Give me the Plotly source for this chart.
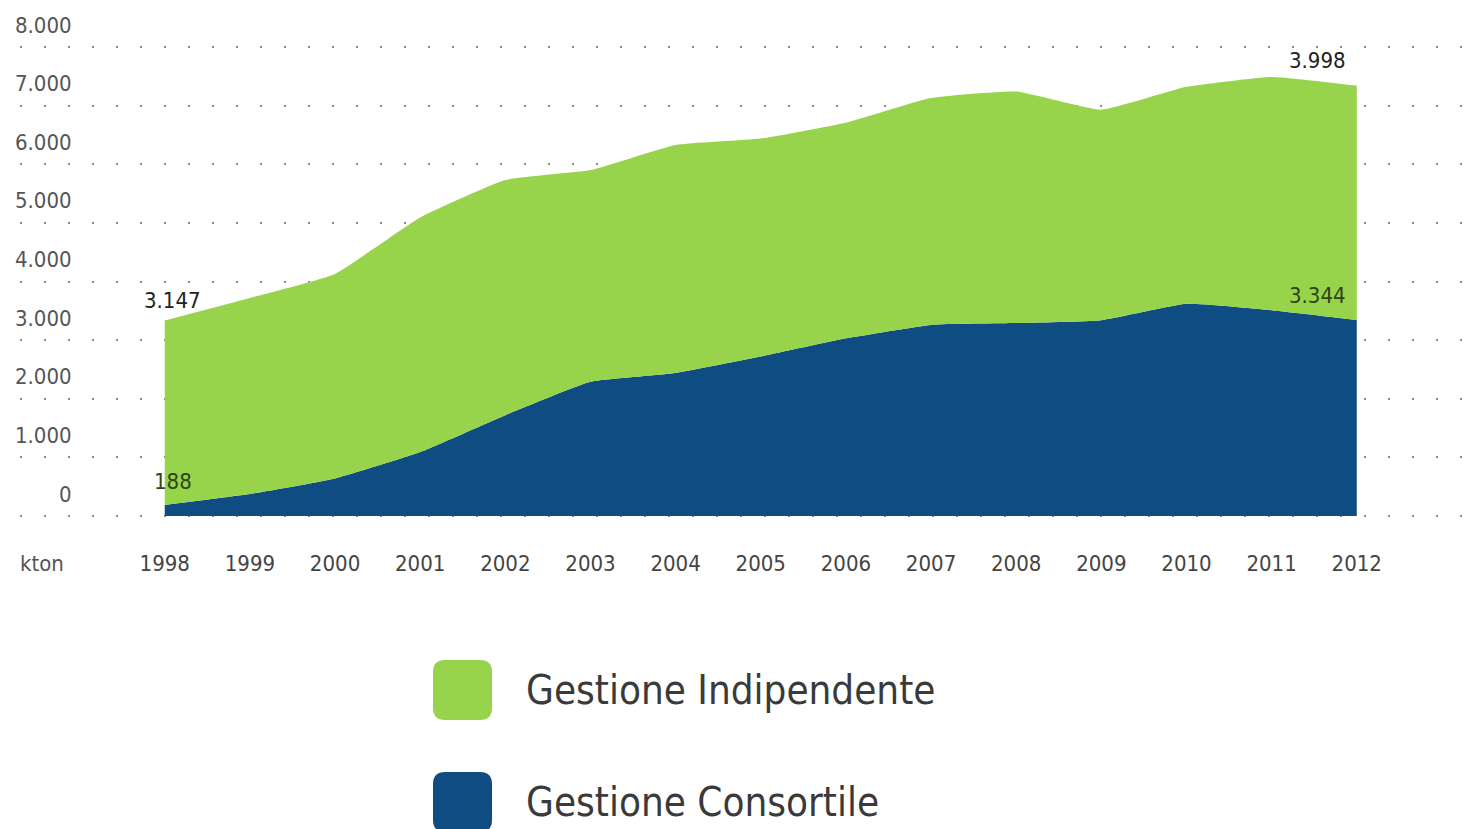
import plotly.graph_objects as go

years = list(range(1998, 2013))
consortile = [188, 375, 640, 1090, 1720, 2290, 2440, 2720, 3030, 3260, 3290, 3340, 3620, 3510, 3344]
indipendente = [3147, 3345, 3490, 4000, 4010, 3610, 3890, 3720, 3680, 3870, 3950, 3590, 3700, 3980, 3998]
series_names = ["Gestione Indipendente", "Gestione Consortile"]
series_colors = ["#97D34B", "#0F4C82"]
y_tick_vals = [0, 1000, 2000, 3000, 4000, 5000, 6000, 7000, 8000]
y_tick_text = ["0", "1.000", "2.000", "3.000", "4.000", "5.000", "6.000", "7.000", "8.000"]
unit_label = "kton"

FONT = "Liberation Sans Narrow, DejaVu Sans Condensed, Arial Narrow, sans-serif"

def fmt(v):
    return f"{v:,}".replace(",", ".")

fig = go.Figure()
fig.add_trace(go.Scatter(
    x=years, y=consortile, name=series_names[1], stackgroup="one",
    mode="none", fillcolor=series_colors[1], line=dict(shape="spline", smoothing=0.4),
    hoverinfo="x+y",
))
fig.add_trace(go.Scatter(
    x=years, y=indipendente, name=series_names[0], stackgroup="one",
    mode="none", fillcolor=series_colors[0], line=dict(shape="spline", smoothing=0.4),
    hoverinfo="x+y",
))

# page has an 8px body margin; work in screen pixels
OFF = 8
W, H = 1478 - OFF, 829 - OFF
# plot area in screen pixels
SX0, SX1 = 20, 1470
SY0, SY1 = 37, 526
L = SX0 - OFF
R = W - (SX1 - OFF)
T = SY0 - OFF
B = H - (SY1 - OFF)
pw = SX1 - SX0
ph = SY1 - SY0
# 0 at screen y=516, 8000 at y=47
per_unit = (516 - 47) / 8000.0
y_lo = -(SY1 - 516) / per_unit
y_hi = 8000 + (47 - SY0) / per_unit

def px_x(sx):
    return (sx - SX0) / pw

def px_y(sy):
    return (SY1 - sy) / ph

annotations = []
for v, t in zip(y_tick_vals, y_tick_text):
    annotations.append(dict(
        x=px_x(74), xref="paper", y=v, yref="y", text=t, showarrow=False,
        xanchor="right", yanchor="middle", yshift=22,
        font=dict(family=FONT, size=22, color="#555555"),
    ))
annotations.append(dict(
    x=px_x(42), xref="paper", y=0, yref="y", text=unit_label, showarrow=False,
    xanchor="center", yanchor="middle", yshift=-47,
    font=dict(family=FONT, size=22, color="#555555"),
))

total_first = consortile[0] + indipendente[0]
total_last = consortile[-1] + indipendente[-1]
annotations += [
    dict(x=years[0], y=total_first, text=fmt(indipendente[0]), showarrow=False,
         xanchor="center", yanchor="middle", xshift=8, yshift=20,
         font=dict(family=FONT, size=22, color="#222222")),
    dict(x=years[0], y=consortile[0], text=fmt(consortile[0]), showarrow=False,
         xanchor="center", yanchor="middle", xshift=8, yshift=23,
         font=dict(family=FONT, size=22, color="#2E4418")),
    dict(x=years[-1], y=total_last, text=fmt(indipendente[-1]), showarrow=False,
         xanchor="center", yanchor="middle", xshift=-39, yshift=25,
         font=dict(family=FONT, size=22, color="#222222")),
    dict(x=years[-1], y=consortile[-1], text=fmt(consortile[-1]), showarrow=False,
         xanchor="center", yanchor="middle", xshift=-39, yshift=24,
         font=dict(family=FONT, size=22, color="#2E4418")),
]

shapes = []
def rounded_rect(x0p, y0p, x1p, y1p, r):
    def P(sx, sy):
        return f"{px_x(sx):.5f},{px_y(sy):.5f}"
    return (f"M {P(x0p + r, y0p)} L {P(x1p - r, y0p)} Q {P(x1p, y0p)} {P(x1p, y0p + r)} "
            f"L {P(x1p, y1p - r)} Q {P(x1p, y1p)} {P(x1p - r, y1p)} "
            f"L {P(x0p + r, y1p)} Q {P(x0p, y1p)} {P(x0p, y1p - r)} "
            f"L {P(x0p, y0p + r)} Q {P(x0p, y0p)} {P(x0p + r, y0p)} Z")

legend_rows = [(660, 720), (772, 832)]
legend_text_y = [690, 802]
for (ytop, ybot), ty, name, col in zip(legend_rows, legend_text_y, series_names, series_colors):
    shapes.append(dict(type="path", xref="paper", yref="paper",
                       path=rounded_rect(433, ytop, 492, ybot, 12),
                       fillcolor=col, line=dict(width=0), layer="above"))
    annotations.append(dict(
        x=px_x(524), xref="paper", y=px_y(ty), yref="paper",
        text=name, showarrow=False, xanchor="left", yanchor="middle",
        font=dict(family=FONT, size=40, color="#3A3A3A"),
    ))

fig.update_layout(
    width=W, height=H,
    margin=dict(l=L, r=R, t=T, b=B, pad=0),
    paper_bgcolor="white", plot_bgcolor="white",
    showlegend=False,
    annotations=annotations,
    shapes=shapes,
    xaxis=dict(
        range=[1996.30, 2013.33], tickvals=years, ticktext=[str(y) for y in years],
        showgrid=False, zeroline=False, showline=False, ticks="",
        tickfont=dict(family=FONT, size=22, color="#444444"),
        ticklabelstandoff=22,
    ),
    yaxis=dict(
        range=[y_lo, y_hi], tickvals=y_tick_vals, showticklabels=False,
        showgrid=True, gridcolor="#8A8A8A", gridwidth=2, griddash="2px,22px",
        zeroline=False, showline=False, ticks="",
    ),
)

fig.write_html("out.html")
